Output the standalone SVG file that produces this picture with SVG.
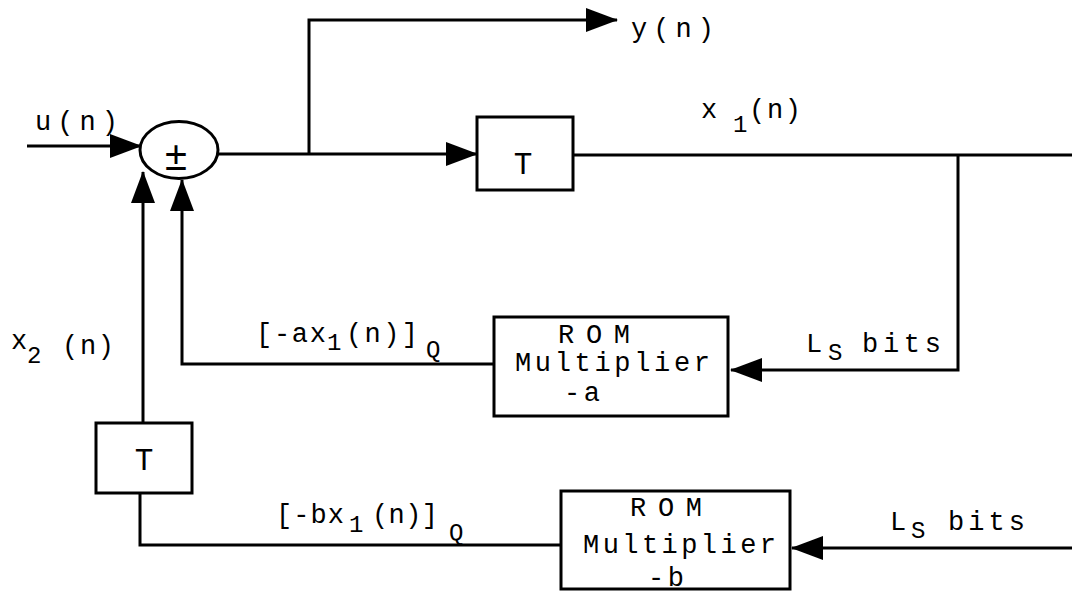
<svg xmlns="http://www.w3.org/2000/svg" width="1072" height="592" viewBox="0 0 1072 592">
<style>
.ln{fill:none;stroke:#000;stroke-width:3;stroke-linejoin:miter}
.bx{fill:#fff;stroke:#000;stroke-width:3}
text{font-family:"Liberation Mono","Courier New",monospace;font-size:27px;fill:#000}
.sb{font-size:24px}
.big{font-size:31px}
.pm{font-size:40px}
</style>
<defs>
<marker id="ah" markerUnits="userSpaceOnUse" markerWidth="32" markerHeight="24" refX="31" refY="12" orient="auto">
<path d="M0,0 L32,12 L0,24 z" fill="#000"/>
</marker>
</defs>
<rect width="1072" height="592" fill="#fff"/>
<g id="connectors">
<path class="ln" d="M27,146 L141,146" marker-end="url(#ah)"/>
<path class="ln" d="M218,154 L477,154" marker-end="url(#ah)"/>
<path class="ln" d="M309,154 L309,20 L617,20" marker-end="url(#ah)"/>
<path class="ln" d="M573,155 L1072,155"/>
<path class="ln" d="M958,155 L958,370 L731,370" marker-end="url(#ah)"/>
<path class="ln" d="M494,364 L182,364 L182,180" marker-end="url(#ah)"/>
<path class="ln" d="M143,423 L143,172" marker-end="url(#ah)"/>
<path class="ln" d="M140,493 L140,545 L561,545"/>
<path class="ln" d="M1072,548 L792,548" marker-end="url(#ah)"/>
</g>
<g id="sum">
<ellipse class="bx" cx="179" cy="150" rx="39" ry="28.5"/>
<text class="pm" x="176" y="170" text-anchor="middle">±</text>
</g>
<g id="delay1">
<rect class="bx" x="477" y="117" width="96" height="73"/>
<text class="big" x="523" y="174" text-anchor="middle">T</text>
</g>
<g id="delay2">
<rect class="bx" x="96" y="423" width="96" height="70"/>
<text class="big" x="144" y="470" text-anchor="middle">T</text>
</g>
<g id="rom-a">
<rect class="bx" x="494" y="317" width="234" height="99"/>
<text x="558" y="343" textLength="72" lengthAdjust="spacing">ROM</text>
<text x="515" y="371" textLength="195" lengthAdjust="spacing">Multiplier</text>
<text x="564" y="401" textLength="36" lengthAdjust="spacing">-a</text>
</g>
<g id="rom-b">
<rect class="bx" x="561" y="491" width="229" height="98"/>
<text x="630" y="516" textLength="72" lengthAdjust="spacing">ROM</text>
<text x="583" y="553" textLength="193" lengthAdjust="spacing">Multiplier</text>
<text x="648" y="586" textLength="36" lengthAdjust="spacing">-b</text>
</g>
<g id="labels">
<text x="35" y="130" textLength="83" lengthAdjust="spacing">u(n)</text>
<text x="631" y="37" textLength="83" lengthAdjust="spacing">y(n)</text>
<text x="701" y="118">x</text>
<text class="sb" x="733" y="132">1</text>
<text x="749" y="118" textLength="52" lengthAdjust="spacing">(n)</text>
<text x="11" y="349">x</text>
<text class="sb" x="27" y="363">2</text>
<text x="62" y="354" textLength="52" lengthAdjust="spacing">(n)</text>
<text x="256" y="342" textLength="70" lengthAdjust="spacing">[-ax</text>
<text class="sb" x="327" y="350">1</text>
<text x="346" y="342" textLength="72" lengthAdjust="spacing">(n)]</text>
<text class="sb" x="426" y="357">Q</text>
<text x="276" y="523" textLength="68" lengthAdjust="spacing">[-bx</text>
<text class="sb" x="349" y="532">1</text>
<text x="372" y="523" textLength="66" lengthAdjust="spacing">(n)]</text>
<text class="sb" x="449" y="540">Q</text>
<text x="806" y="352">L</text>
<text class="sb" x="828" y="360">S</text>
<text x="862" y="352" textLength="79" lengthAdjust="spacing">bits</text>
<text x="890" y="530">L</text>
<text class="sb" x="911" y="538">S</text>
<text x="948" y="530" textLength="77" lengthAdjust="spacing">bits</text>
</g>
</svg>
